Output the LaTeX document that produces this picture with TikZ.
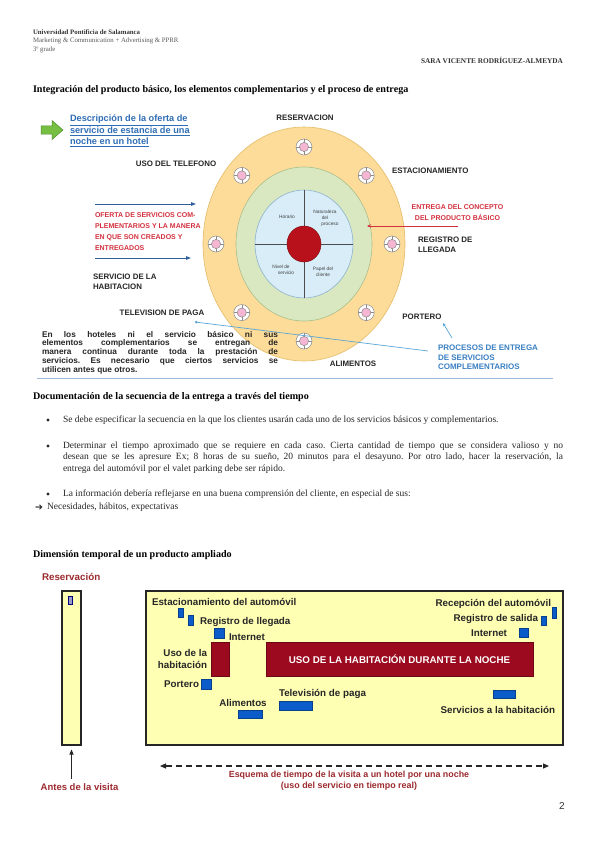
\documentclass[tikz,border=0pt]{standalone}
\usepackage{fontspec}
\setmainfont{Liberation Serif}
\newfontfamily\arial{Liberation Sans}
\newfontfamily\djv{DejaVu Sans}
\usetikzlibrary{arrows.meta,calc}
\definecolor{ringY}{HTML}{FCDC98}
\definecolor{ringYd}{HTML}{E3BC6A}
\definecolor{ringG}{HTML}{D9E8C1}
\definecolor{ringGd}{HTML}{A9BF8A}
\definecolor{ringB}{HTML}{D8EDF8}
\definecolor{ringBd}{HTML}{8DB2CC}
\definecolor{coreR}{HTML}{B8111C}
\definecolor{offred}{HTML}{D3313F}
\definecolor{descblue}{HTML}{2F6DB5}
\definecolor{procblue}{HTML}{3A80C3}
\definecolor{thinblue}{HTML}{5AA6D6}
\definecolor{arrblue}{HTML}{2E5E9C}
\definecolor{wine}{HTML}{9C2A2E}
\definecolor{wine2}{HTML}{9B0A1F}
\definecolor{boxblue}{HTML}{0B5BC9}
\definecolor{paleY}{HTML}{FFFFB4}
\definecolor{markpink}{HTML}{F4B6D2}
\definecolor{rule}{HTML}{9DBBD8}
\definecolor{arrowgreen}{HTML}{76BF43}
\definecolor{arrowgreend}{HTML}{4E8F2B}
\frenchspacing
\begin{document}
\begin{tikzpicture}[x=1pt,y=-1pt,
  every node/.style={inner sep=0pt,outer sep=0pt},
  hdrb/.style={font=\fontsize{6.8}{8}\selectfont\bfseries,anchor=west,text=black!80},
  hdr/.style={font=\fontsize{6.8}{8}\selectfont,anchor=west,text=black!65},
  sect/.style={font=\fontsize{10.1}{12}\selectfont\bfseries,anchor=west},
  body/.style={font=\fontsize{9.5}{11}\selectfont,anchor=west,text=black!85},
  dot/.style={circle,fill=black!85,minimum size=3.4pt},
  lab/.style={font=\arial\bfseries\fontsize{7.9}{10}\selectfont,text=black!85},
  redlab/.style={font=\arial\bfseries\fontsize{7.0}{11}\selectfont,text=offred,align=left},
  quad/.style={font=\arial\fontsize{4.8}{6}\selectfont,text=black!75,align=center},
  para/.style={font=\arial\bfseries\fontsize{8.3}{9}\selectfont,text=black!85,anchor=west},
  dlab/.style={font=\arial\bfseries\fontsize{9.8}{12}\selectfont,text=black!85},
  dred/.style={font=\arial\bfseries\fontsize{9.5}{11}\selectfont,text=wine},
  brect/.style={fill=boxblue,draw=boxblue!70!black,line width=0.3pt},
  rrect/.style={fill=wine2,draw=wine2!70!black,line width=0.4pt},
  frame/.style={fill=paleY,draw=black!85,line width=1.1pt}]
\useasboundingbox[fill=white] (0,0) rectangle (600,848);

% ---------- header ----------
\node[hdrb] (h1) at (33,32) {Universidad Pontificia de Salamanca};
\node[hdr] (h2) at (33,41) {Marketing \& Communication + Advertising \& PPRR};
\node[hdr] (h3) at (33,50) {3º grade};
\node[hdrb,anchor=east,font=\fontsize{7.3}{8}\selectfont\bfseries] (h4) at (563,60) {SARA VICENTE RODRÍGUEZ-ALMEYDA};
\node[sect] (t1) at (33,90) {Integración del producto básico, los elementos complementarios y el proceso de entrega};

% ---------- diagram 1 ----------
\coordinate (c) at (304,244);
\fill[ringY,draw=ringYd,line width=0.6pt] (c) ellipse [x radius=101,y radius=117];
\fill[ringG,draw=ringGd,line width=0.6pt] (c) ellipse [x radius=68,y radius=77];
\fill[ringB,draw=ringBd,line width=0.6pt] (c) ellipse [x radius=49,y radius=54];
\draw[black!70,line width=0.6pt] ($(c)+(0,-54)$) -- ($(c)+(0,54)$);
\draw[black!70,line width=0.6pt] ($(c)+(-49,0)$) -- ($(c)+(49,0)$);
\fill[coreR,draw=coreR!70!black,line width=0.5pt] (c) ellipse [x radius=17,y radius=18];
\foreach \a in {0,45,...,315}{
  \begin{scope}[shift={($(c)+(\a:88 and 97)$)}]
    \fill[white,draw=black!45,line width=0.5pt] (0,0) circle (8);
    \draw[black!45,line width=0.5pt] (-8,0)--(8,0) (0,-8)--(0,8);
    \fill[markpink,draw=black!45,line width=0.5pt] (0,0) circle (4.6);
  \end{scope}
}
\node[quad] (q1) at (287,217) {Horario};
\node[quad] (q2) at (325,218) {Naturaleza\\del\\\hspace*{10pt}proceso};
\node[quad] (q3) at (281,270) {Nivel de\\\hspace*{10pt}servicio};
\node[quad] (q4) at (323,272) {Papel del\\cliente};

\node[lab] (res) at (305,118) {RESERVACION};
\node[lab] (tel) at (176,164) {USO DEL TELEFONO};
\node[lab,anchor=west] (est) at (392,171) {ESTACIONAMIENTO};
\node[redlab,align=center] (ent) at (457.5,212.5) {ENTREGA DEL CONCEPTO\\DEL PRODUCTO BÁSICO};
\coordinate (entarr) at (367,226);
\draw[offred,line width=0.8pt,-{Stealth[length=4pt,width=3.5pt]}] (458,226) -- (entarr);
\node[lab,anchor=west,align=left] (reg) at (418,245) {REGISTRO DE\\LLEGADA};

\fill[arrowgreen,draw=arrowgreend,line width=0.5pt]
  (41,126) -- (52,126) -- (52,120.5) -- (63,130) -- (52,139.5) -- (52,134) -- (41,134) -- cycle;
\node[font=\arial\bfseries\fontsize{9.2}{11.5}\selectfont,text=descblue,anchor=north west,align=left] (desc) at (70,115)
  {\underline{Descripción de la oferta de}\\\underline{servicio de estancia de una}\\\underline{noche en un hotel}};

\coordinate (a1s) at (95,204); \coordinate (a1e) at (196,204);
\coordinate (a2s) at (95,258); \coordinate (a2e) at (191,258);
\draw[arrblue,line width=0.9pt,-{Triangle[length=5pt,width=3.5pt]}] (a1s) -- (a1e);
\draw[arrblue,line width=0.9pt,-{Triangle[length=5pt,width=3.5pt]}] (a2s) -- (a2e);
\node[redlab,anchor=west] (ofe) at (95,232) {OFERTA DE SERVICIOS COM-\\PLEMENTARIOS Y LA MANERA\\EN QUE SON CREADOS Y\\ENTREGADOS};
\node[lab,anchor=west,align=left] (sha) at (93,282) {SERVICIO DE LA\\HABITACION};
\node[lab] (tv) at (162,313) {TELEVISION DE PAGA};
\node[lab] (por) at (422,317) {PORTERO};
\node[lab] (ali) at (353,364) {ALIMENTOS};
\node[lab,anchor=west,align=left,text=procblue,font=\arial\bfseries\fontsize{8}{9.5}\selectfont] (pro) at (438,357.5) {PROCESOS DE ENTREGA\\DE SERVICIOS\\COMPLEMENTARIOS};
\coordinate (tvtip) at (195,322);
\coordinate (portip) at (443,323);
\draw[thinblue,line width=0.7pt,-{Circle[length=2.6pt]}] (428,351) -- (tvtip);
\draw[thinblue,line width=0.7pt,-{Stealth[length=3.5pt,width=3pt]}] (452,338) -- (portip);

\node[para] (p1) at (42,334) {\makebox[236pt][s]{En los hoteles ni el servicio básico ni sus}};
\node[para] (p2) at (42,343) {\makebox[236pt][s]{elementos complementarios se entregan de}};
\node[para] (p3) at (42,352) {\makebox[236pt][s]{manera continua durante toda la prestación de}};
\node[para] (p4) at (42,361) {\makebox[236pt][s]{servicios. Es necesario que ciertos servicios se}};
\node[para] (p5) at (42,370) {utilicen antes que otros.};
\draw[rule,line width=1pt] (37,378) -- (553,378);

% ---------- section 2 ----------
\node[sect] (t2) at (33,397) {Documentación de la secuencia de la entrega a través del tiempo};
\node[dot] (d1) at (48,420) {};
\node[body] (b1) at (63,420) {Se debe especificar la secuencia en la que los clientes usarán cada uno de los servicios básicos y complementarios.};
\node[dot] (d2) at (48,446) {};
\node[body] (b2a) at (63,446) {\makebox[500pt][s]{Determinar el tiempo aproximado que se requiere en cada caso. Cierta cantidad de tiempo que se considera valioso y no}};
\node[body] (b2b) at (63,457.5) {\makebox[500pt][s]{desean que se les apresure Ex; 8 horas de su sueño, 20 minutos para el desayuno. Por otro lado, hacer la reservación, la}};
\node[body] (b2c) at (63,469) {entrega del automóvil por el valet parking debe ser rápido.};
\node[dot] (d3) at (48,494) {};
\node[body] (b3) at (63,494) {La información debería reflejarse en una buena comprensión del cliente, en especial de sus:};
\node[body,font=\djv\fontsize{9.5}{11}\selectfont] (b4a) at (35,507.5) {➔};
\node[body] (b4) at (47,507) {Necesidades, hábitos, expectativas};

% ---------- section 3 ----------
\node[sect] (t3) at (33,555) {Dimensión temporal de un producto ampliado};
\node[dred,anchor=west,font=\arial\bfseries\fontsize{9.8}{11}\selectfont] (rsv) at (42,577) {Reservación};
\node[frame,minimum width=19pt,minimum height=154pt] (tall) at (71.5,668) {};
\fill[blue!30!gray!60,draw=blue!50!black,line width=0.4pt] (68,596) rectangle (72,604);
\node[frame,minimum width=417pt,minimum height=154pt] (big) at (354.5,668) {};

\node[dlab,anchor=west] (l1) at (152,602) {Estacionamiento del automóvil};
\fill[brect] (178,608) rectangle (183,617);
\fill[brect] (188,615) rectangle (193,625);
\node[dlab,anchor=west] (l2) at (200,622) {Registro de llegada};
\fill[brect] (214,628) rectangle (224,638);
\node[dlab,anchor=west] (l3) at (229,637) {Internet};
\node[dlab,anchor=east,align=right] (l4) at (207,658.5) {Uso de la\\habitación};
\fill[rrect] (211,642) rectangle (229,676);
\node[rrect,minimum width=267pt,minimum height=34pt,font=\arial\bfseries\fontsize{9.8}{11}\selectfont,text=white] (noche) at (399.5,659) {USO DE LA HABITACIÓN DURANTE LA NOCHE};
\node[dlab,anchor=east] (l5) at (199,684) {Portero};
\fill[brect] (201,679) rectangle (211,689);
\node[dlab] (l6) at (243,703) {Alimentos};
\fill[brect] (238,710) rectangle (262,718);
\node[dlab,anchor=west] (l7) at (279,694) {Televisión de paga};
\fill[brect] (279,701) rectangle (312,710);

\node[dlab,anchor=east] (r1) at (551,604) {Recepción del automóvil};
\fill[brect] (552,607) rectangle (556,618);
\node[dlab,anchor=east] (r2) at (538,619) {Registro de salida};
\fill[brect] (541,616) rectangle (546,625);
\node[dlab,anchor=east] (r3) at (507,633) {Internet};
\fill[brect] (519,628) rectangle (528,637);
\fill[brect] (493,690) rectangle (515,698);
\node[dlab,anchor=east] (r4) at (555,710) {Servicios a la habitación};

\node[dred] (antes) at (79.5,787) {Antes de la visita};
\coordinate (abot) at (71.5,779); \coordinate (atop) at (71.5,749.5);
\draw[black!85,line width=1pt,-{Triangle[length=5pt,width=4pt]}] (abot) -- (atop);
\coordinate (dl) at (160,766); \coordinate (dr) at (549,766);
\draw[black!85,line width=1.2pt,dash pattern=on 6pt off 4pt,{Triangle[length=6pt,width=5pt]}-{Triangle[length=6pt,width=5pt]}] (dl) -- (dr);
\node[dred,align=center,font=\arial\bfseries\fontsize{8.9}{11}\selectfont] (esq) at (349,781) {Esquema de tiempo de la visita a un hotel por una noche\\(uso del servicio en tiempo real)};
\node[font=\arial\fontsize{10}{12}\selectfont,text=black!80] (pg) at (562,806) {2};
\end{tikzpicture}
\end{document}
